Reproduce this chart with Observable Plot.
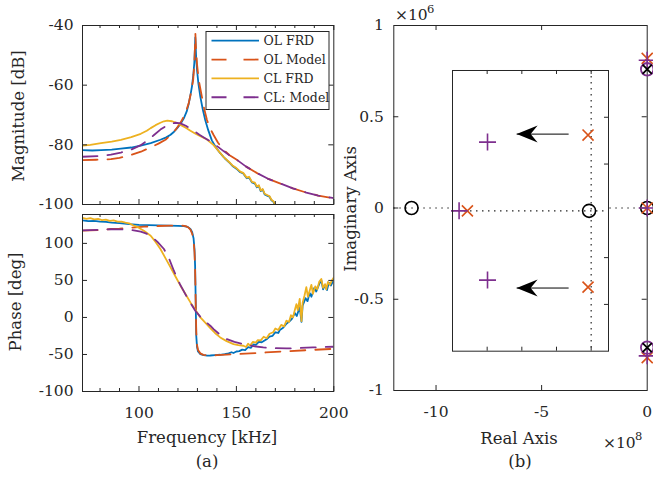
<!DOCTYPE html>
<html><head><meta charset="utf-8">
<script src="https://cdn.jsdelivr.net/npm/d3@7"></script>
<script src="https://cdn.jsdelivr.net/npm/@observablehq/plot@0.6"></script>
<style>
body{margin:0;background:#fff;}
#fig{position:relative;width:653px;height:480px;overflow:hidden;background:#fff;font-family:"DejaVu Serif",serif;color:#262626;}
</style></head><body><div id="fig"></div>
<script>
// ---------- DATA ----------
// Bode magnitude [dB] vs frequency [kHz]
const olFrdMag = [[71,-81.8],[76,-81.9],[80.5,-81.8],[86,-81.6],[90.7,-81.3],[96,-80.9],[100.9,-80.3],[106,-79.4],[111,-78.3],[114,-77.5],[116.2,-76.6],[118,-75.6],[119.6,-74.4],[121.5,-72.8],[123,-71.1],[124.5,-68.8],[125.5,-66.3],[126.5,-63],[127.2,-60.4],[127.9,-56.5],[128.4,-52.5],[128.7,-48],[128.9,-44],[129.1,-47],[129.4,-51.5],[129.8,-55],[130.5,-59.5],[131.5,-63.9],[132.7,-68],[134,-71.7],[135.5,-75],[137.4,-78.5],[139.5,-80.9],[141.7,-82.8],[144,-84.5],[146.8,-86.2],[148,-87.1],[150,-88],[152,-89.2],[153.5,-89.6],[155.3,-91.2],[156.5,-91],[158,-92.6],[159.5,-93],[160.5,-94.2],[161.5,-93.8],[162.5,-95.5],[163.5,-95],[164.5,-96.6],[166,-97.1],[167,-97.4],[168,-98.6],[169,-99.1],[170,-100.4]];
const olModelMag = [[71,-85.1],[78,-85.0],[85.6,-84.8],[90,-84.4],[95.8,-83.4],[101,-82.3],[106,-80.8],[110,-79.6],[113.6,-78.3],[116.5,-76.6],[118.7,-75],[120.5,-73.4],[122.1,-71.7],[124,-69],[125.5,-66.1],[126.7,-62.5],[127.8,-58.3],[128.4,-53],[128.8,-46],[128.95,-42.8],[129.2,-47],[129.8,-53],[130.7,-58.5],[132.3,-63.9],[133.5,-68],[134.9,-71.7],[136.5,-74.5],[138.3,-76.7],[140.5,-79.2],[143.4,-81.7],[146.5,-83.5],[150.2,-85],[155,-87.3],[160.4,-89.4],[166,-91.3],[172.3,-92.9],[179,-94.6],[185.9,-96],[192,-97],[200,-97.9]];
const clFrdMag = [[71,-80.3],[75,-80.0],[80.5,-79.4],[86,-78.9],[90.7,-78.3],[96,-77.4],[100.9,-76.3],[104,-75.3],[106,-74.4],[108.5,-73.4],[111,-72.6],[112.8,-72.1],[114.5,-71.9],[117,-72.1],[119.6,-72.7],[121.3,-73.3],[124,-74.3],[126.4,-75.3],[129,-76.3],[131.5,-77.1],[134.9,-78.2],[138.3,-80.1],[141,-82.2],[143.5,-84.1],[146.8,-86.1],[148,-86.9],[150,-87.8],[152,-89],[153.5,-89.4],[155.3,-91],[156.5,-90.7],[158,-92.4],[159.5,-92.7],[160.5,-94],[161.5,-93.5],[162.5,-95.3],[163.5,-94.8],[164.5,-96.4],[166,-96.9],[167,-97.2],[168,-98.4],[169,-98.9],[170,-100.2]];
const clModelMag = [[71,-84.0],[80.5,-83.7],[85.6,-83.3],[90.7,-82.6],[96,-81.6],[100.9,-80.1],[104.5,-78.5],[107.7,-76.7],[111,-74.9],[113.6,-73.8],[116.3,-73.0],[118.7,-72.6],[121.3,-72.8],[124,-73.6],[126.4,-74.6],[128.4,-75.4],[131,-76.6],[133.5,-77.6],[136.6,-78.8],[140,-80.4],[143.4,-82.1],[146.8,-83.7],[150.2,-85],[155,-87.3],[160.4,-89.4],[166,-91.3],[172.3,-92.9],[179,-94.6],[185.9,-96],[192,-97],[200,-97.9]];

// Bode phase [deg] vs frequency [kHz]
const olFrdPhase = [[71,131],[74,130],[77,130.4],[80,129.3],[83,129],[86,128],[90,127.3],[95,126],[100,125],[105,124.6],[110,124.3],[115,124],[120,123.7],[123,123.4],[125,122.3],[126.4,119.5],[127.3,115],[128,107],[128.5,92],[128.8,70],[129,40],[129.2,5],[129.4,-25],[129.8,-40],[130.3,-46],[131.5,-49.5],[133.2,-50.8],[135,-51.5],[136.6,-51.4],[139,-51],[141.7,-50.4],[144,-49.5],[146,-48.5],[147.5,-47],[148.5,-48],[150,-46],[151.5,-45.5],[153,-43.5],[154.5,-44],[156,-40],[157.5,-41],[158.7,-36.5],[160,-37],[161.5,-33],[163,-33.5],[165.5,-29.5],[167,-26],[168.5,-25],[170,-20],[171.5,-21],[172.3,-17],[174,-14],[175.5,-9],[177.4,-5],[178.5,-2],[180,6],[181,2],[182.5,14],[183.4,-6],[184,16],[185.5,26],[186.5,22],[187.6,33],[188.5,28],[190,40],[191,35],[192.5,45],[193.6,50],[194.5,38],[195.5,44],[196.5,37],[197.5,47],[198.5,43],[200,51]];
const olModelPhase = [[71,117.3],[80,118],[85.6,119.4],[90,119.8],[95,121],[102.6,122.6],[110,123.5],[116.2,124],[122,124],[124,123.3],[125.3,121.5],[126.4,118.5],[127.3,113],[128,104],[128.5,88],[128.8,65],[129,38],[129.2,8],[129.4,-20],[129.8,-37],[130.3,-44],[131.5,-48.5],[133,-50.5],[135,-51.2],[137,-51.3],[140,-51],[145,-50.2],[148.5,-49.6],[157,-48.6],[165,-47.3],[174,-45.9],[185.9,-44.2],[200,-42.4]];
const clFrdPhase = [[71,134.5],[73,133],[75,134],[77,132.5],[79,133],[81,131.5],[83,132],[85,130.5],[87,131],[89,129.5],[91,129.5],[93,128],[95,127],[97,124.5],[99.2,122],[102.5,117],[106,110.4],[108.5,102],[111,92.4],[113.5,80.5],[116.2,67.6],[118.8,55],[121.3,42.9],[124,31],[126.4,20.3],[129,10],[131.5,0],[134,-7],[136.6,-14.5],[139,-21],[141.7,-27],[145,-32],[148.5,-36],[151,-37.5],[153.6,-38.2],[155,-40],[156,-35.5],[157,-38],[158.5,-33],[160,-34],[161,-30.5],[162.5,-31],[164,-26],[165.5,-28],[167,-22],[168.9,-20],[170,-15],[171.5,-17],[173,-10],[174.5,-12],[175.7,-4.4],[177,-6],[178,3],[179,0],[180,10],[180.8,18],[181.5,10],[182.5,25],[183.4,-5],[184,20],[185,30],[185.9,41],[186.7,28],[187.5,35],[188.5,44],[189.3,32],[190.5,42],[191.5,38],[192.5,48],[193.6,52],[194.5,40],[195.5,45],[196.1,38],[197,48],[198,44],[199,50],[200,54]];
const clModelPhase = [[71,117.5],[80,118.5],[85.6,119.2],[90,119],[95.8,118.3],[100.9,115.8],[103.5,113.5],[106,110.4],[109.5,102],[112.8,92.4],[115.5,79],[117.9,63.1],[121,45],[124.7,27],[128.9,9],[131.5,1],[134,-5.5],[136.6,-11.2],[138.3,-15.7],[141,-22],[145.1,-29.2],[149,-33],[153.6,-36],[158,-38.5],[163.8,-40.5],[170,-41.5],[175.7,-41.9],[182,-41.3],[189.3,-40.5],[194.4,-39.9],[200,-39.6]];

// Pole-zero map: real part (x1e8), imaginary part (x1e6)
const blackZeros = [[-11.16,0],[0,0]];
const blackPoles = [[0,0.76],[0,-0.765]];
const purpleZeros = [[0,0.76],[0,-0.765]];
const orangePoles = [[0,0.82],[0,0],[0,-0.82]];
const purplePoles = [[0,0.81],[0,0],[0,-0.81]];

// Inset (zoom around the dominant poles), inset units
const insetBlackZeros = [[-0.06,0]];
const insetOrangePoles = [[-0.09,1.62],[-0.09,-1.63],[-3.57,0]];
const insetPurplePoles = [[-2.99,1.47],[-2.99,-1.48],[-3.81,0]];
const insetArrows = [[-0.65,-2.15,1.64],[-0.65,-2.15,-1.65]]; // [from x, to x, y]

// Ticks
const magYTicks = [-40,-60,-80,-100];
const phaseYTicks = [100,50,0,-50,-100];
const freqTicks = [100,150,200];
const freqMinor = [80,90,110,120,130,140,160,170,180,190];
const reTicks = [-10,-5,0];
const imTicks = [1,0.5,0,-0.5,-1];
const insetXTicks = [-3,-2,-1,0];
const insetYTicks = [-2,-1,1,2];

const legendLabels = ["OL FRD","OL Model","CL FRD","CL: Model"];

// ---------- STYLE ----------
const AX = "#262626";
const BLUE="#0072BD", ORANGE="#D95319", YELLOW="#EDB120", PURPLE="#7E2F8E";
const FONT = "DejaVu Serif";
const DASH = "15,10";
const LW = 1.8;
const fmt = d => String(d);
const fig = document.getElementById("fig");
function place(el, left, top){ el.style.position="absolute"; el.style.left=left+"px"; el.style.top=top+"px"; el.style.maxWidth="none"; fig.appendChild(el); }
const baseStyle = {fontFamily: FONT, fontSize: "15.5px", color: AX, background: "transparent", overflow: "visible"};

const symPlus = {draw(c, s){ const r = Math.sqrt(s/Math.PI); c.moveTo(-r,0); c.lineTo(r,0); c.moveTo(0,-r); c.lineTo(0,r);} };
const symTimes = {draw(c, s){ const r = Math.sqrt(s/Math.PI)*0.7071; c.moveTo(-r,-r); c.lineTo(r,r); c.moveTo(-r,r); c.lineTo(r,-r);} };
const symHead = {draw(c, s){ const L=21, W=8.5, N=14; c.moveTo(0,0); c.lineTo(L,-W); c.lineTo(N,0); c.lineTo(L,W); c.closePath(); } };

function ticksX(vals, plotH, len, sides){
  const m=[];
  if (sides.includes("b")) m.push(Plot.tickX(vals,{x:d=>d, insetTop: plotH-len, stroke: AX, strokeWidth:1}));
  if (sides.includes("t")) m.push(Plot.tickX(vals,{x:d=>d, insetBottom: plotH-len, stroke: AX, strokeWidth:1}));
  return m;
}
function ticksY(vals, plotW, len, sides){
  const m=[];
  if (sides.includes("l")) m.push(Plot.tickY(vals,{y:d=>d, insetRight: plotW-len, stroke: AX, strokeWidth:1}));
  if (sides.includes("r")) m.push(Plot.tickY(vals,{y:d=>d, insetLeft: plotW-len, stroke: AX, strokeWidth:1}));
  return m;
}
const X = d=>d[0], Y = d=>d[1];

// ---------- MAGNITUDE ----------
{
  const W=340,H=210,mL=82,mR=6.7,mT=25,mB=6, pW=W-mL-mR, pH=H-mT-mB;
  const p = Plot.plot({
    width:W, height:H, marginLeft:mL, marginRight:mR, marginTop:mT, marginBottom:mB,
    x:{domain:[71,200], axis:null}, y:{domain:[-100,-40], axis:null},
    style: baseStyle,
    marks:[
      Plot.line(olFrdMag,{x:X,y:Y,stroke:BLUE,strokeWidth:LW,clip:true}),
      Plot.line(olModelMag,{x:X,y:Y,stroke:ORANGE,strokeWidth:LW,strokeDasharray:DASH,clip:true}),
      Plot.line(clFrdMag,{x:X,y:Y,stroke:YELLOW,strokeWidth:LW,clip:true}),
      Plot.line(clModelMag,{x:X,y:Y,stroke:PURPLE,strokeWidth:LW,strokeDasharray:DASH,clip:true}),
      ...ticksX(freqTicks, pH, 5, "bt"), ...ticksX(freqMinor, pH, 3, "bt"),
      ...ticksY(magYTicks, pW, 5, "lr"),
      Plot.frame({stroke:AX, strokeWidth:1}),
      Plot.axisY({ticks:magYTicks, tickSize:0, tickPadding:9, tickFormat:fmt, label:null})
    ]
  });
  place(p, 0, 0);
}
// ---------- PHASE ----------
{
  const W=360,H=275,mL=82,mR=26.7,mT=9,mB=89, pW=W-mL-mR, pH=H-mT-mB;
  const p = Plot.plot({
    width:W, height:H, marginLeft:mL, marginRight:mR, marginTop:mT, marginBottom:mB,
    x:{domain:[71,200], axis:null}, y:{domain:[-100,139], axis:null},
    style: baseStyle,
    marks:[
      Plot.line(olFrdPhase,{x:X,y:Y,stroke:BLUE,strokeWidth:LW,clip:true}),
      Plot.line(olModelPhase,{x:X,y:Y,stroke:ORANGE,strokeWidth:LW,strokeDasharray:DASH,clip:true}),
      Plot.line(clFrdPhase,{x:X,y:Y,stroke:YELLOW,strokeWidth:LW,clip:true}),
      Plot.line(clModelPhase,{x:X,y:Y,stroke:PURPLE,strokeWidth:LW,strokeDasharray:DASH,clip:true}),
      ...ticksX(freqTicks, pH, 5, "bt"), ...ticksX(freqMinor, pH, 3, "bt"),
      ...ticksY(phaseYTicks, pW, 5, "lr"),
      Plot.frame({stroke:AX, strokeWidth:1}),
      Plot.axisY({ticks:phaseYTicks, tickSize:0, tickPadding:9, tickFormat:fmt, label:null}),
      Plot.axisX({ticks:freqTicks, tickSize:0, tickPadding:15, tickFormat:fmt, label:null})
    ]
  });
  place(p, 0, 205);
}
// ---------- POLE-ZERO MAP ----------
{
  const W=313,H=480,mL=53.3,mR=6.3,mT=25,mB=90, pW=W-mL-mR, pH=H-mT-mB;
  const p = Plot.plot({
    width:W, height:H, marginLeft:mL, marginRight:mR, marginTop:mT, marginBottom:mB,
    x:{domain:[-12,0], axis:null}, y:{domain:[-1,1], axis:null},
    style: baseStyle,
    marks:[
      Plot.ruleY([0],{stroke:AX, strokeWidth:1.2, strokeDasharray:"1.5,4.5"}),
      ...ticksX([-10,-5], pH, 5, "bt"),
      ...ticksY([0.5,0,-0.5], pW, 5, "lr"),
      Plot.frame({stroke:AX, strokeWidth:1}),
      Plot.axisY({ticks:imTicks, tickSize:0, tickPadding:10, tickFormat:fmt, label:null}),
      Plot.axisX({ticks:reTicks, tickSize:0, tickPadding:15, tickFormat:fmt, label:null}),
      Plot.dot(blackZeros,{x:X,y:Y,symbol:"circle",r:6.5,stroke:"black",fill:"none",strokeWidth:1.6}),
      Plot.dot(orangePoles,{x:X,y:Y,symbol:symTimes,r:7.8,stroke:ORANGE,fill:"none",strokeWidth:1.6}),
      Plot.dot(purplePoles,{x:X,y:Y,symbol:symPlus,r:8.5,stroke:PURPLE,fill:"none",strokeWidth:1.6}),
      Plot.dot(purpleZeros,{x:X,y:Y,symbol:"circle",r:6.3,stroke:PURPLE,fill:"none",strokeWidth:1.8}),
      Plot.dot(blackPoles,{x:X,y:Y,symbol:symTimes,r:6.5,stroke:"black",fill:"none",strokeWidth:1.8})
    ]
  });
  place(p, 340, 0);
}
// ---------- INSET ----------
{
  const W=158,H=282.7,m=1, pW=W-2*m, pH=H-2*m;
  const p = Plot.plot({
    width:W, height:H, marginLeft:m, marginRight:m, marginTop:m, marginBottom:m,
    x:{domain:[-4,0.5], axis:null}, y:{domain:[-3,3], axis:null},
    style: {...baseStyle, background:"white", overflow:"hidden"},
    marks:[
      Plot.ruleY([0],{stroke:AX, strokeWidth:1.2, strokeDasharray:"1.5,4.5"}),
      Plot.ruleX([0],{stroke:AX, strokeWidth:1.2, strokeDasharray:"1.5,4.5"}),
      ...ticksX(insetXTicks, pH, 4, "bt"),
      ...ticksY(insetYTicks, pW, 4, "r"),
      Plot.link(insetArrows,{x1:d=>d[0], x2:d=>d[1], y1:d=>d[2], y2:d=>d[2], stroke:"black", strokeWidth:1}),
      Plot.dot(insetArrows,{x:d=>d[1], y:d=>d[2], symbol:symHead, r:3, fill:"black", stroke:"none"}),
      Plot.dot(insetBlackZeros,{x:X,y:Y,symbol:"circle",r:6.5,stroke:"black",fill:"none",strokeWidth:1.6}),
      Plot.dot(insetOrangePoles,{x:X,y:Y,symbol:symTimes,r:7.8,stroke:ORANGE,fill:"none",strokeWidth:1.6}),
      Plot.dot(insetPurplePoles,{x:X,y:Y,symbol:symPlus,r:8.5,stroke:PURPLE,fill:"none",strokeWidth:1.6}),
      Plot.frame({stroke:AX, strokeWidth:1})
    ]
  });
  place(p, 450.7, 69.3);
}
// ---------- TEXT & LEGEND OVERLAY ----------
{
  const svg = d3.create("svg").attr("width",653).attr("height",480)
    .style("font-family",FONT).style("fill",AX).style("pointer-events","none");
  const t = (x,y,s,size,anchor="middle",rot=0)=>{
    const e = svg.append("text").attr("text-anchor",anchor).attr("font-size",size)
      .attr("transform",`translate(${x},${y})${rot?` rotate(${rot})`:""}`).attr("fill",AX);
    e.text(s); return e;
  };
  t(23.5,116,"Magnitude [dB]",16.5,"middle",-90);
  t(21,302,"Phase [deg]",16.5,"middle",-90);
  t(356,209,"Imaginary Axis",16.5,"middle",-90);
  t(207,443,"Frequency [kHz]",16.5);
  t(207,467,"(a)",16.5);
  t(519,444,"Real Axis",16.5);
  t(520,467,"(b)",16.5);
  t(395,20,"×10",15.5,"start");
  t(427,13,"6",11.5,"start");
  t(603,448,"×10",15.5,"start");
  t(635,440,"8",11.5,"start");
  // legend
  const lg = svg.append("g");
  lg.append("rect").attr("x",206).attr("y",31.5).attr("width",123).attr("height",78)
    .attr("fill","white").attr("stroke",AX).attr("stroke-width",1);
  const cols=[BLUE,ORANGE,YELLOW,PURPLE], dashed=[false,true,false,true];
  legendLabels.forEach((lab,i)=>{
    const y = 40.7 + i*18.85;
    lg.append("line").attr("x1",211.5).attr("x2",259).attr("y1",y).attr("y2",y)
      .attr("stroke",cols[i]).attr("stroke-width",1.8).attr("stroke-dasharray",dashed[i]?"15,17":null);
    lg.append("text").attr("x",263.5).attr("y",y).attr("dy","0.35em").attr("font-size",12.5).attr("fill",AX).text(lab);
  });
  const el = svg.node(); el.style.pointerEvents="none";
  place(el,0,0);
}
</script></body></html>
